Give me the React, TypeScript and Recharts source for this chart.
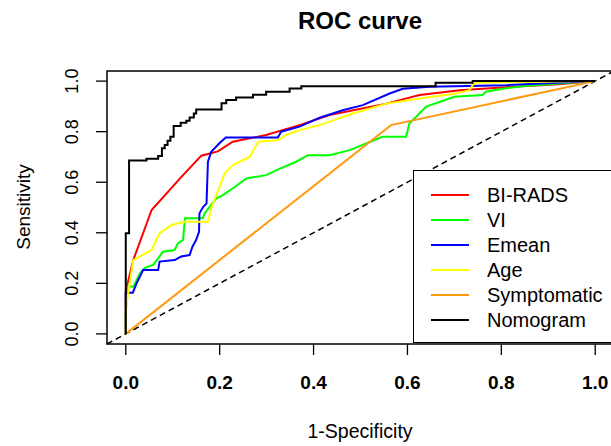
import React from 'react';
import {
  LineChart,
  Line,
  XAxis,
  YAxis,
  ReferenceLine,
  ReferenceArea,
  Legend,
  Customized,
} from 'recharts';

const FONT = '"Liberation Sans", Arial, Helvetica, sans-serif';

// ---- tick values / labels ----
const xTicks = [0, 0.2, 0.4, 0.6, 0.8, 1.0];
const yTicks = [0, 0.2, 0.4, 0.6, 0.8, 1.0];
const tickLabels: Record<string, string> = {
  '0': '0.0', '0.2': '0.2', '0.4': '0.4', '0.6': '0.6', '0.8': '0.8', '1': '1.0',
};

// ---- series: [1-specificity, sensitivity] ----
const biradsPts: [number, number][] = [
  [0, 0], [0, 0.17], [0.016, 0.292], [0.055, 0.49], [0.087, 0.556], [0.118, 0.62],
  [0.161, 0.705], [0.196, 0.722], [0.228, 0.76], [0.299, 0.787], [0.37, 0.826],
  [0.434, 0.866], [0.555, 0.911], [0.626, 0.945], [0.711, 0.964], [0.817, 0.977],
  [0.923, 0.988], [1, 1],
];

const viPts: [number, number][] = [
  [0, 0], [0, 0.088], [0.005, 0.187], [0.016, 0.187], [0.03, 0.24], [0.04, 0.26],
  [0.058, 0.273], [0.069, 0.299], [0.079, 0.325], [0.104, 0.332], [0.111, 0.358],
  [0.122, 0.372], [0.126, 0.457], [0.164, 0.457], [0.168, 0.477], [0.179, 0.503],
  [0.193, 0.536], [0.207, 0.549], [0.228, 0.576], [0.257, 0.615], [0.299, 0.628],
  [0.328, 0.654], [0.363, 0.681], [0.388, 0.707], [0.434, 0.707], [0.477, 0.727],
  [0.547, 0.78], [0.597, 0.78], [0.604, 0.832], [0.64, 0.899], [0.7, 0.938],
  [0.76, 0.945], [0.767, 0.958], [0.803, 0.97], [0.849, 0.981], [0.923, 0.991], [1, 1],
];

const emeanPts: [number, number][] = [
  [0, 0], [0, 0.163], [0.015, 0.163], [0.023, 0.2], [0.037, 0.253], [0.069, 0.253],
  [0.072, 0.286], [0.104, 0.292], [0.118, 0.306], [0.136, 0.312], [0.142, 0.345],
  [0.15, 0.372], [0.156, 0.404], [0.157, 0.477], [0.165, 0.503], [0.172, 0.516],
  [0.175, 0.681], [0.182, 0.72], [0.2, 0.755], [0.213, 0.777], [0.324, 0.777],
  [0.331, 0.8], [0.37, 0.82], [0.413, 0.855], [0.462, 0.885], [0.505, 0.905],
  [0.562, 0.951], [0.59, 0.97], [0.647, 0.978], [0.81, 0.984], [1, 1],
];

const agePts: [number, number][] = [
  [0, 0], [0, 0.1], [0.016, 0.292], [0.055, 0.332], [0.072, 0.398], [0.097, 0.431],
  [0.126, 0.444], [0.175, 0.444], [0.182, 0.497], [0.211, 0.635], [0.228, 0.668],
  [0.25, 0.688], [0.264, 0.7], [0.282, 0.76], [0.324, 0.767], [0.342, 0.787],
  [0.37, 0.806], [0.413, 0.826], [0.484, 0.872], [0.555, 0.911], [0.626, 0.931],
  [0.704, 0.951], [0.732, 0.964], [0.739, 0.984], [0.746, 0.994], [1, 1],
];

const symptomaticPts: [number, number][] = [
  [0, 0], [0.565, 0.826], [1, 1],
];

const nomogramPts: [number, number][] = [
  [0, 0], [0, 0.398], [0.007, 0.398], [0.007, 0.686], [0.044, 0.686], [0.044, 0.693],
  [0.069, 0.693], [0.069, 0.704], [0.077, 0.704], [0.077, 0.734], [0.083, 0.734],
  [0.083, 0.747], [0.089, 0.747], [0.089, 0.764], [0.095, 0.764], [0.095, 0.78],
  [0.102, 0.78], [0.102, 0.822], [0.117, 0.822], [0.117, 0.835], [0.129, 0.835],
  [0.129, 0.843], [0.136, 0.843], [0.136, 0.856], [0.145, 0.856], [0.145, 0.872],
  [0.15, 0.872], [0.15, 0.888], [0.204, 0.888], [0.204, 0.912], [0.214, 0.912],
  [0.214, 0.925], [0.235, 0.925], [0.235, 0.935], [0.271, 0.935], [0.271, 0.946],
  [0.299, 0.946], [0.299, 0.958], [0.349, 0.958], [0.349, 0.971], [0.374, 0.971],
  [0.374, 0.98], [0.66, 0.98], [0.66, 0.994], [0.739, 0.994], [0.739, 1], [1, 1],
];

const seriesNames = ['BI-RADS', 'VI', 'Emean', 'Age', 'Symptomatic', 'Nomogram'];
const seriesColors = ['#FF0000', '#00FF00', '#0000FF', '#FFFF00', '#FF9A10', '#000000'];
const seriesPts = [biradsPts, viPts, emeanPts, agePts, symptomaticPts, nomogramPts];

const toData = (pts: [number, number][]) => pts.map(([x, y]) => ({ x, y }));

const XTick = (props: any) => {
  const { x, payload } = props;
  return (
    <text x={x} y={389} textAnchor="middle" fontFamily={FONT} fontSize={19}
      fontWeight="bold" fill="#000">
      {tickLabels[String(payload.value)]}
    </text>
  );
};

const YTick = (props: any) => {
  const { y, payload } = props;
  const bx = 78;
  return (
    <text x={bx} y={y} transform={`rotate(-90 ${bx} ${y})`} textAnchor="middle"
      fontFamily={FONT} fontSize={18} fill="#000">
      {tickLabels[String(payload.value)]}
    </text>
  );
};

const Titles = () => (
  <g>
    <text x={360} y={29} textAnchor="middle" fontFamily={FONT} fontSize={24}
      fontWeight="bold" fill="#000">ROC curve</text>
    <text x={360} y={438} textAnchor="middle" fontFamily={FONT} fontSize={19.5}
      fill="#000">1-Specificity</text>
    <text x={30} y={207} transform="rotate(-90 30 207)" textAnchor="middle"
      fontFamily={FONT} fontSize={19} fill="#000">Sensitivity</text>
  </g>
);

const LegendBox = () => (
  <div style={{
    width: 210, height: 173, boxSizing: 'border-box', border: '1.5px solid #000',
    background: '#fff', position: 'relative', fontFamily: FONT,
  }}>
    {seriesNames.map((n, i) => (
      <div key={n} style={{ position: 'absolute', left: 0, top: 24 + i * 25 - 12, height: 24, width: 210 }}>
        <div style={{
          position: 'absolute', left: 17, top: 11, width: 38, height: 1.5,
          background: seriesColors[i],
        }} />
        <div style={{
          position: 'absolute', left: 73, top: 0, lineHeight: '24px', fontSize: 20,
          color: '#000', whiteSpace: 'nowrap',
        }}>{n}</div>
      </div>
    ))}
  </div>
);

export default function App() {
  return (
    <div style={{
      position: 'absolute', left: 0, top: 0, width: 611, height: 446,
      overflow: 'hidden', background: '#fff',
    }}>
      <LineChart width={614} height={446} margin={{ top: 71, right: 0, bottom: 0, left: 0 }}>
        <XAxis dataKey="x" type="number" domain={[-0.04, 1.04]} allowDataOverflow
          ticks={xTicks} tick={<XTick />} tickSize={11} axisLine={false}
          tickLine={{ stroke: '#000', strokeWidth: 1.3 }} height={102} />
        <YAxis dataKey="y" type="number" domain={[-0.04, 1.04]} allowDataOverflow
          ticks={yTicks} tick={<YTick />} tickSize={11} axisLine={false}
          tickLine={{ stroke: '#000', strokeWidth: 1.3 }} width={107} />
        <ReferenceArea x1={-0.04} x2={1.04} y1={-0.04} y2={1.04} fill="none"
          fillOpacity={0} stroke="#000" strokeWidth={1.5} ifOverflow="visible" />
        <ReferenceLine segment={[{ x: -0.04, y: -0.04 }, { x: 1.04, y: 1.04 }]}
          stroke="#000" strokeWidth={1.5} strokeDasharray="6 4" ifOverflow="visible" />
        {seriesPts.map((pts, i) => (
          <Line key={seriesNames[i]} name={seriesNames[i]} data={toData(pts)} dataKey="y"
            type="linear" stroke={seriesColors[i]} strokeWidth={2} dot={false}
            activeDot={false} isAnimationActive={false} />
        ))}
        <Customized component={Titles} />
        <Legend layout="vertical" align="center" verticalAlign="middle"
          wrapperStyle={{ left: 413, top: 170, width: 210, height: 173 }}
          content={() => <LegendBox />} />
      </LineChart>
    </div>
  );
}
